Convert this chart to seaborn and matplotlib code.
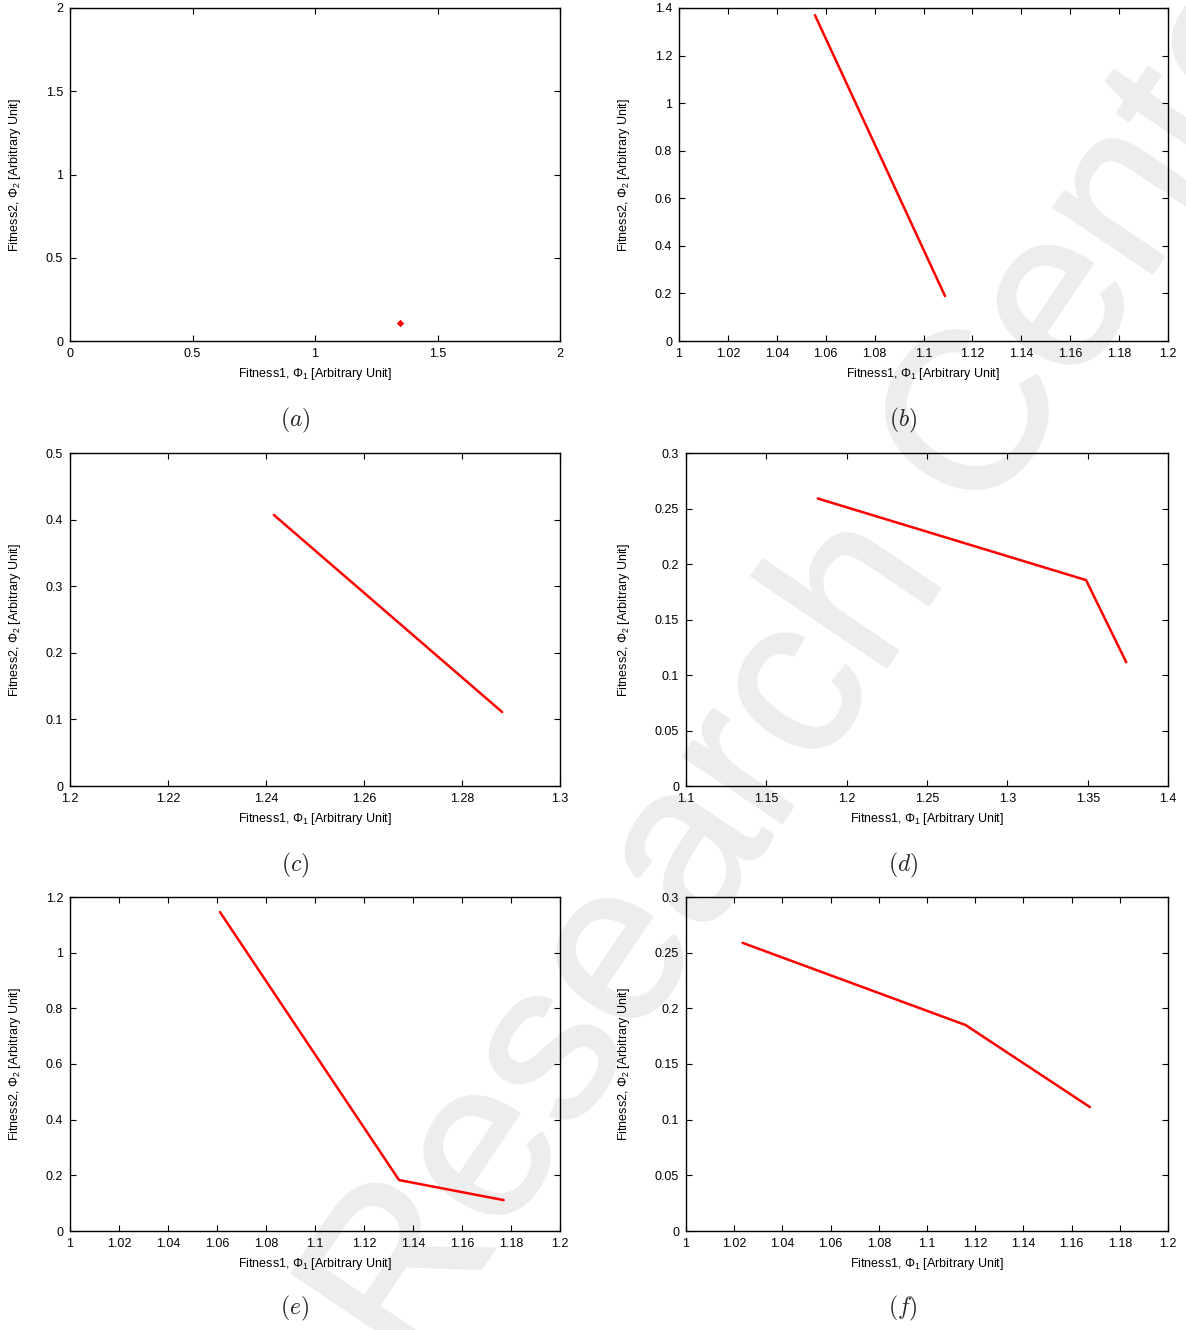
import numpy as np
import pandas as pd
import matplotlib
matplotlib.use("Agg")
import matplotlib.pyplot as plt
import matplotlib.patheffects as pe
import seaborn as sns

# values (Fitness1 vs Fitness2)
a_x = [1.345]
a_y = [0.110]
b_x = [1.0556, 1.1088]
b_y = [1.370, 0.189]
c_x = [1.2416, 1.2882]
c_y = [0.407, 0.111]
d_x = [1.182, 1.349, 1.374]
d_y = [0.259, 0.1855, 0.1115]
e_x = [1.0612, 1.1343, 1.177]
e_y = [1.146, 0.183, 0.111]
f_x = [1.0235, 1.1160, 1.1676]
f_y = [0.2588, 0.185, 0.1113]

captions = ["(a)", "(b)", "(c)", "(d)", "(e)", "(f)"]
x_ticks = [np.arange(0, 2.01, 0.5), np.arange(1, 1.201, 0.02), np.arange(1.2, 1.301, 0.02),
           np.arange(1.1, 1.401, 0.05), np.arange(1, 1.201, 0.02), np.arange(1, 1.201, 0.02)]
y_ticks = [np.arange(0, 2.01, 0.5), np.arange(0, 1.401, 0.2), np.arange(0, 0.501, 0.1),
           np.arange(0, 0.301, 0.05), np.arange(0, 1.201, 0.2), np.arange(0, 0.301, 0.05)]

sns.set_theme(style="white")
plt.rcParams["font.family"] = ["Liberation Sans", "DejaVu Sans"]
plt.rcParams["mathtext.fontset"] = "cm"

fig = plt.figure(figsize=(11.86, 13.3), dpi=100)
W, H = 1186, 1330

# watermark behind everything
wm = fig.text(885 / W, 1 - 670 / H, "Research Center", fontsize=162, fontweight="normal",
              color="#ededed", rotation=56, rotation_mode="anchor", ha="center", va="baseline",
              zorder=-5, family="Liberation Sans")
wm.set_path_effects([pe.Stroke(linewidth=2, foreground="#ededed", joinstyle="round",
                               capstyle="round"), pe.Normal()])

# axes boxes in pixels: left, top, right, bottom
boxes = [(70, 8, 560, 341), (679, 8, 1168, 341),
         (70, 453, 560, 786), (686, 453, 1168, 786),
         (70, 897, 560, 1231), (686, 897, 1168, 1231)]
cap_pos = [(295, 420), (903, 420), (295, 865), (903, 865), (295, 1308), (903, 1308)]
data = [(a_x, a_y), (b_x, b_y), (c_x, c_y), (d_x, d_y), (e_x, e_y), (f_x, f_y)]

def fmt(v):
    s = "%.2f" % v
    s = s.rstrip("0").rstrip(".")
    return s

for i in range(6):
    l, t, r, b = boxes[i]
    ax = fig.add_axes([l / W, 1 - b / H, (r - l) / W, (b - t) / H])
    ax.set_facecolor("none")
    xs, ys = data[i]
    df = pd.DataFrame({"x": xs, "y": ys})
    if i == 0:
        sns.scatterplot(data=df, x="x", y="y", ax=ax, color="red", marker="D", s=14,
                        edgecolor="red", linewidth=0)
    else:
        sns.lineplot(data=df, x="x", y="y", ax=ax, color="red", linewidth=1.8,
                     estimator=None, sort=False)
    xt = x_ticks[i]
    yt = y_ticks[i]
    ax.set_xlim(xt[0], xt[-1])
    ax.set_ylim(yt[0], yt[-1])
    ax.set_xticks(xt)
    ax.set_yticks(yt)
    ax.set_xticklabels([fmt(v) for v in xt])
    ax.set_yticklabels([fmt(v) for v in yt])
    ax.tick_params(direction="in", length=4.5, width=0.8, color="black", labelsize=9,
                   top=True, right=True, bottom=True, left=True, colors="black")
    ax.tick_params(axis="x", pad=5)
    ax.tick_params(axis="y", pad=5)
    for sp in ax.spines.values():
        sp.set_visible(True)
        sp.set_color("black")
        sp.set_linewidth(1.0)
    ax.set_xlabel(r"Fitness1, $\mathregular{\Phi_1}$ [Arbitrary Unit]", fontsize=9, color="black")
    ax.set_ylabel(r"Fitness2, $\mathregular{\Phi_2}$ [Arbitrary Unit]", fontsize=9, color="black")
    ax.xaxis.set_label_coords(0.5, -25 / (b - t))
    ax.xaxis.label.set_va("top")
    lx = 15 if l < 600 else 624
    ax.yaxis.set_label_coords((lx - l) / (r - l), 0.5)
    ax.yaxis.label.set_va("center")
    cx, cy = cap_pos[i]
    fig.text(cx / W, 1 - cy / H, r"$\mathit{" + captions[i] + "}$", fontsize=17,
             ha="center", va="center")

fig.savefig("out.png", dpi=100)
